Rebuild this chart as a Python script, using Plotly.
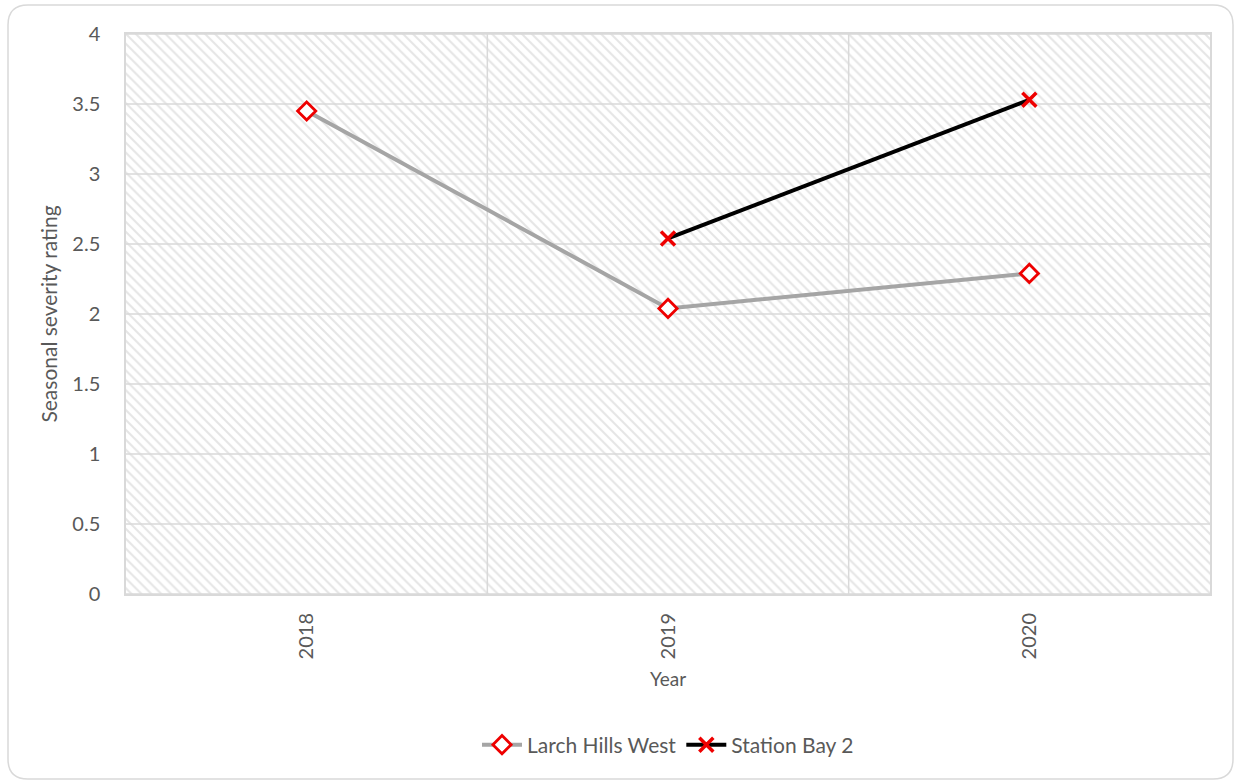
import plotly.graph_objects as go

years = ["2018", "2019", "2020"]
larch_hills_west = [3.45, 2.04, 2.29]
station_bay_2 = [None, 2.54, 3.53]
y_ticks = [0, 0.5, 1, 1.5, 2, 2.5, 3, 3.5, 4]

W, H = 1235, 781
ML, MR, MT, MB = 126, 25, 34, 187
pw, ph = W - ML - MR, H - MT - MB

FONT = "Lato"
TXT = "#595959"
GRID = "#d9d9d9"

fig = go.Figure()

# hatched plot background on a hidden unit x axis
fig.add_trace(go.Scatter(
    x=[0, 1, 1, 0, 0], y=[0, 0, 4, 4, 0], xaxis="x", yaxis="y",
    mode="lines", line=dict(width=0), fill="toself",
    fillcolor="white",
    fillpattern=dict(shape="\\", fgcolor="#cccccc", bgcolor="white",
                     size=7, solidity=0.3),
    hoverinfo="skip", showlegend=False,
))

# gridlines above the hatch, below the data
gx, gy = [], []
for t in y_ticks:
    gx += [0, 1, None]
    gy += [t, t, None]
n = len(years)
for i in range(1, n):
    gx += [i / n, i / n, None]
    gy += [0, 4, None]
fig.add_trace(go.Scatter(
    x=gx, y=gy, xaxis="x", yaxis="y", mode="lines",
    line=dict(color=GRID, width=1.5), hoverinfo="skip", showlegend=False,
))

fig.add_trace(go.Scatter(
    x=years, y=larch_hills_west, xaxis="x2", yaxis="y",
    name="Larch Hills West", mode="lines+markers",
    line=dict(color="#a5a5a5", width=4),
    marker=dict(symbol="diamond", size=14, color="white",
                line=dict(color="#ee0000", width=2.8)),
))
fig.add_trace(go.Scatter(
    x=years, y=station_bay_2, xaxis="x2", yaxis="y",
    name="Station Bay 2", mode="lines+markers",
    line=dict(color="#000000", width=4),
    marker=dict(symbol="x-thin", size=14,
                line=dict(color="#ee0000", width=3.5)),
))

# rounded chart frame
r = 20
x0, x1, y0, y1 = 8, 1233, 5, 779


def px(x):
    return (x - ML) / pw


def py(y):
    return (MT + ph - y) / ph


path = (
    f"M {px(x0 + r)},{py(y0)} L {px(x1 - r)},{py(y0)} "
    f"Q {px(x1)},{py(y0)} {px(x1)},{py(y0 + r)} "
    f"L {px(x1)},{py(y1 - r)} Q {px(x1)},{py(y1)} {px(x1 - r)},{py(y1)} "
    f"L {px(x0 + r)},{py(y1)} Q {px(x0)},{py(y1)} {px(x0)},{py(y1 - r)} "
    f"L {px(x0)},{py(y0 + r)} Q {px(x0)},{py(y0)} {px(x0 + r)},{py(y0)} Z"
)
fig.add_shape(type="path", path=path, xref="paper", yref="paper",
              line=dict(color="#d9d9d9", width=1.5), layer="below")

fig.update_layout(
    width=W, height=H,
    margin=dict(l=ML, r=MR, t=MT, b=MB),
    paper_bgcolor="white", plot_bgcolor="white",
    font=dict(family=FONT, color=TXT, size=20),
    xaxis=dict(range=[0, 1], visible=True, showticklabels=False,
               showgrid=False, zeroline=False, ticks="",
               showline=True, mirror=True, linecolor=GRID, linewidth=1.5),
    xaxis2=dict(overlaying="x", type="category", range=[-0.5, 2.5],
                showgrid=False, zeroline=False, showline=False,
                tickangle=-90, ticks="", ticklabelstandoff=14,
                tickfont=dict(size=20, color=TXT),
                title=dict(text="Year", font=dict(size=19, color=TXT),
                           standoff=14),
                side="bottom", anchor="y"),
    yaxis=dict(range=[0, 4], tickvals=y_ticks,
               ticktext=[f"{t:g}" for t in y_ticks],
               showgrid=False, zeroline=False,
               showline=True, mirror=True, linecolor=GRID, linewidth=1.5,
               ticks="", ticklabelstandoff=20,
               tickfont=dict(size=20, color=TXT),
               title=dict(text="Seasonal severity rating",
                          font=dict(size=21, color=TXT), standoff=9)),
    legend=dict(orientation="h", x=0.5, xanchor="center",
                y=(MT + ph - 745) / ph, yanchor="middle",
                font=dict(size=21, color=TXT), itemwidth=40,
                bgcolor="rgba(0,0,0,0)"),
    hovermode=False,
)

fig.write_html("out.html")
